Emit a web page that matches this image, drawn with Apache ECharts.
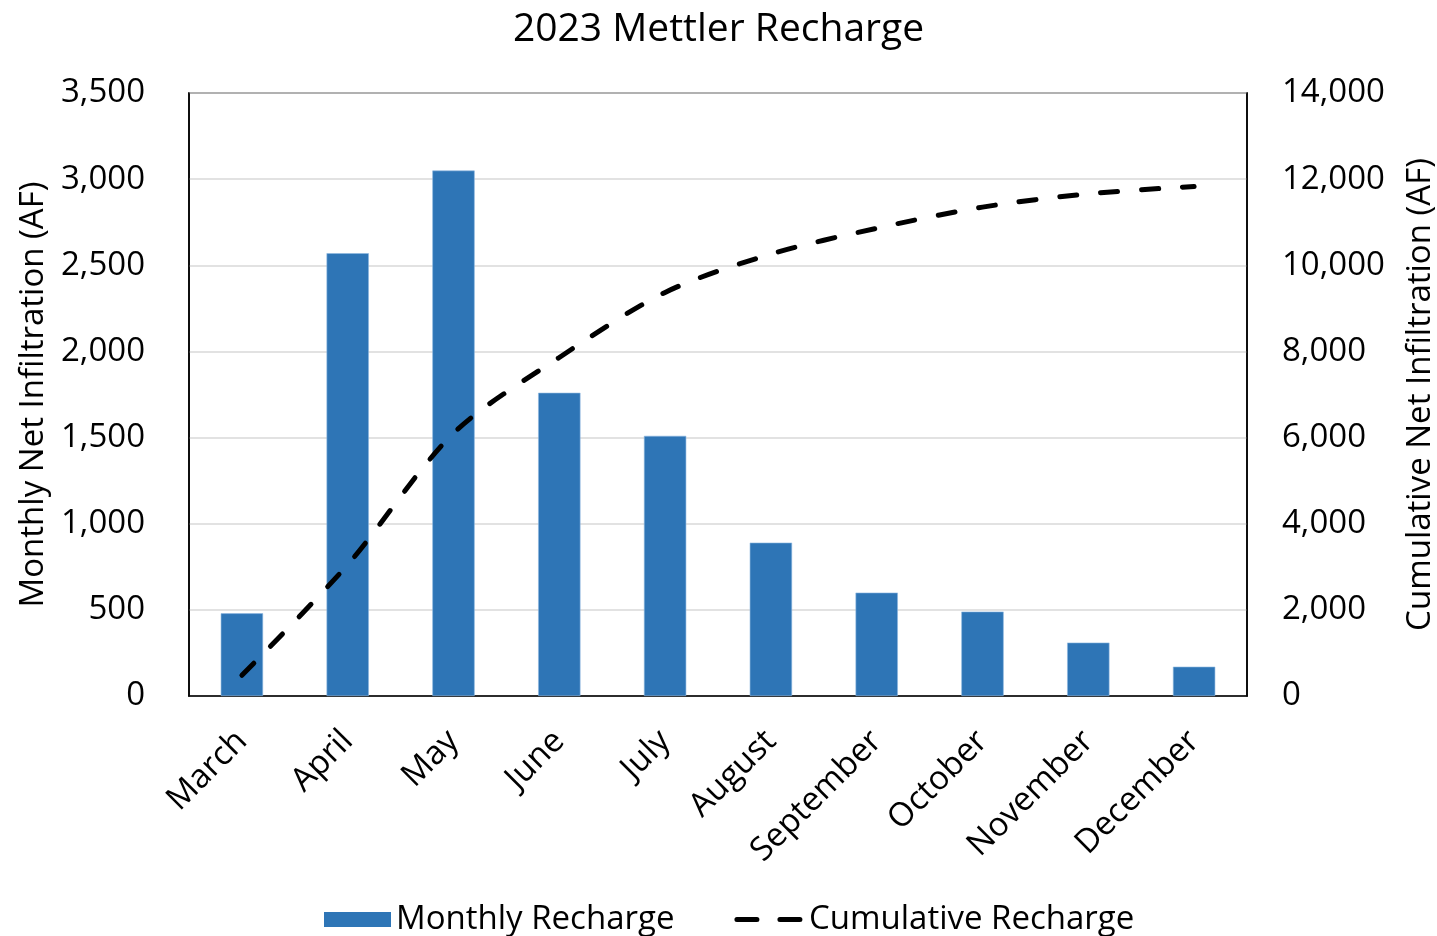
<!DOCTYPE html>
<html>
<head>
<meta charset="utf-8">
<script src="https://cdn.jsdelivr.net/npm/echarts@6/dist/echarts.min.js"></script>
<style>
  html, body { margin: 0; padding: 0; background: #fff; }
  #chart { width: 1437px; height: 936px; }
</style>
</head>
<body>
<div id="chart"></div>
<script>
// Monthly and cumulative net infiltration, 2023 (acre-feet)
const months = ['March', 'April', 'May', 'June', 'July', 'August', 'September', 'October', 'November', 'December'];
const monthlyRecharge = [480, 2570, 3050, 1760, 1510, 890, 600, 490, 310, 170];
const cumulativeRecharge = [480, 3050, 6100, 7860, 9370, 10260, 10860, 11350, 11660, 11830];

const FONT = 'Open Sans';
const SIZE = 33;
const fmt = v => v.toLocaleString('en-US');

const chart = echarts.init(document.getElementById('chart'), null, { renderer: 'canvas' });
chart.setOption({
  backgroundColor: '#fff',
  animation: false,
  textStyle: { fontFamily: FONT, color: '#000' },
  title: {
    text: '2023 Mettler Recharge',
    left: 'center',
    top: 5,
    textStyle: { fontFamily: FONT, fontSize: 39, fontWeight: 'normal', color: '#000' }
  },
  legend: {
    top: 898,
    left: 319,
    itemGap: 60,
    itemWidth: 67,
    itemHeight: 15,
    textStyle: { fontFamily: FONT, fontSize: SIZE, color: '#000' },
    data: [
      { name: 'Monthly Recharge', icon: 'rect', itemStyle: { borderWidth: 0 } },
      {
        name: 'Cumulative Recharge',
        itemStyle: { color: 'rgba(0,0,0,0)', opacity: 0, borderWidth: 0 },
        lineStyle: { color: '#000', width: 5, type: [20, 23], cap: 'round' }
      }
    ]
  },
  grid: {
    left: 189, right: 190, top: 93, bottom: 240,
    outerBoundsMode: 'none',
    containLabel: false,
    show: true, borderColor: '#000', borderWidth: 1.5
  },
  xAxis: {
    type: 'category',
    data: months,
    axisLine: { show: true, lineStyle: { color: '#000', width: 1.5 } },
    axisTick: { show: false },
    axisLabel: {
      rotate: 45,
      margin: 40,
      fontFamily: FONT,
      fontSize: SIZE,
      color: '#000'
    }
  },
  yAxis: [
    {
      type: 'value',
      min: 0, max: 3500, interval: 500,
      name: 'Monthly Net Infiltration (AF)',
      nameLocation: 'middle',
      nameGap: 138,
      nameRotate: 90,
      nameTextStyle: { fontFamily: FONT, fontSize: SIZE, color: '#000' },
      axisLine: { show: true, lineStyle: { color: '#000', width: 1.5 } },
      axisTick: { show: false },
      axisLabel: { margin: 44, fontFamily: FONT, fontSize: SIZE, color: '#000', formatter: fmt, padding: [5, 0, 0, 0] },
      splitLine: { show: true, lineStyle: { color: '#d9d9d9', width: 1.5 } }
    },
    {
      type: 'value',
      min: 0, max: 14000, interval: 2000,
      name: 'Cumulative Net Infiltration (AF)',
      nameLocation: 'middle',
      nameGap: 157,
      nameRotate: 90,
      nameTextStyle: { fontFamily: FONT, fontSize: SIZE, color: '#000' },
      axisLine: { show: true, lineStyle: { color: '#000', width: 1.5 } },
      axisTick: { show: false },
      axisLabel: { margin: 35, fontFamily: FONT, fontSize: SIZE, color: '#000', formatter: fmt, padding: [5, 0, 0, 0] },
      splitLine: { show: false }
    }
  ],
  series: [
    {
      name: 'Monthly Recharge',
      type: 'bar',
      data: monthlyRecharge,
      barWidth: '40%',
      itemStyle: { color: '#2E75B6', borderColor: '#8FB8E0', borderWidth: 0.6 }
    },
    {
      name: 'Cumulative Recharge',
      type: 'line',
      yAxisIndex: 1,
      data: cumulativeRecharge,
      smooth: 0.3,
      symbol: 'none',
      itemStyle: { color: '#000' },
      lineStyle: { color: '#000', width: 5, type: [17, 24], cap: 'round' }
    }
  ]
});
</script>
</body>
</html>
